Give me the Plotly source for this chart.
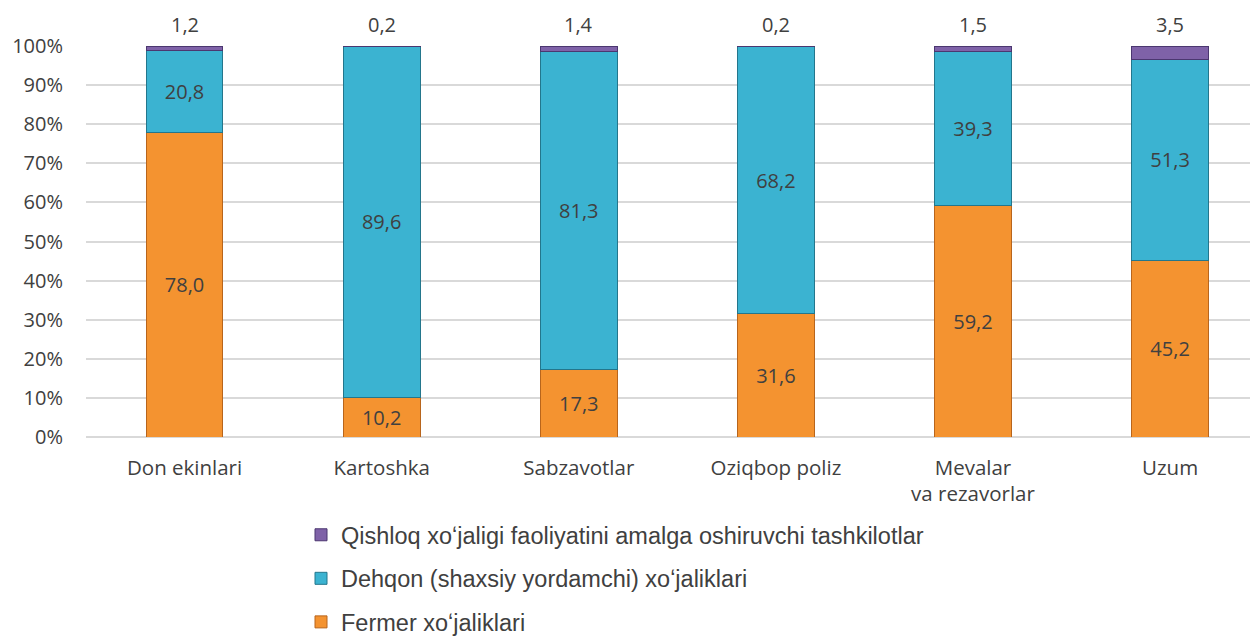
import plotly.graph_objects as go

categories = ["Don ekinlari", "Kartoshka", "Sabzavotlar", "Oziqbop poliz", "Mevalar<br>va rezavorlar", "Uzum"]
fermer = [78.0, 10.2, 17.3, 31.6, 59.2, 45.2]
dehqon = [20.8, 89.6, 81.3, 68.2, 39.3, 51.3]
tashkilot = [1.2, 0.2, 1.4, 0.2, 1.5, 3.5]

names = ["Fermer xoʻjaliklari", "Dehqon (shaxsiy yordamchi) xoʻjaliklari",
         "Qishloq xoʻjaligi faoliyatini amalga oshiruvchi tashkilotlar"]
colors = ["#F49330", "#3BB3D1", "#7F62A8"]
lines = ["#B8651C", "#23768C", "#4B3770"]
ranks = [3, 2, 1]

FONT = "Open Sans"
# The page body has an 8px margin, so the figure is sized to fit the window.
W, H = 1250, 628
L, T, B = 78, 38, 199
plot_w = W - L
plot_h = H - T - B

fig = go.Figure()
for i, (vals, nm) in enumerate(zip([fermer, dehqon, tashkilot], names)):
    fig.add_trace(go.Bar(
        x=categories, y=vals, name=nm,
        marker=dict(color=colors[i], line=dict(color=lines[i], width=1)),
        texttemplate="%{y:.1f}" if i < 2 else None,
        textposition="inside" if i < 2 else "none",
        insidetextanchor="middle",
        textfont=dict(family=FONT, size=20, color="#404040"),
        legendgroup=str(i), legendrank=ranks[i],
    ))

for c, v in zip(categories, tashkilot):
    fig.add_annotation(x=c, y=100, text=f"{v:.1f}".replace(".", ","), showarrow=False,
                       yanchor="bottom", yshift=6,
                       font=dict(family=FONT, size=20, color="#404040"))

fig.update_layout(
    width=W, height=H,
    barmode="stack", bargap=0.61,
    separators=", ",
    plot_bgcolor="white", paper_bgcolor="white",
    margin=dict(l=L, r=0, t=T, b=B, autoexpand=False),
    showlegend=True,
    legend=dict(orientation="v", traceorder="grouped", tracegroupgap=10,
                x=(293 - L) / plot_w, xanchor="left", y=-(505 - (T + plot_h)) / plot_h, yanchor="top",
                font=dict(family="Liberation Sans", size=23.5, color="#404040"),
                itemwidth=30),
    font=dict(family=FONT, size=20, color="#404040"),
)
fig.update_xaxes(range=[-0.5, 5.446], showgrid=False, showline=False,
                 ticks="outside", ticklen=12, tickcolor="rgba(0,0,0,0)",
                 tickfont=dict(family=FONT, size=20.5, color="#404040"))
fig.update_yaxes(range=[0, 100], dtick=10, ticksuffix="%", showgrid=True,
                 gridcolor="#D9D9D9", gridwidth=1.5, zeroline=True, zerolinecolor="#D9D9D9",
                 zerolinewidth=1.5, showline=False,
                 ticks="outside", ticklen=18, tickcolor="rgba(0,0,0,0)",
                 tickfont=dict(family=FONT, size=20, color="#404040"))

fig.write_html("out.html")
